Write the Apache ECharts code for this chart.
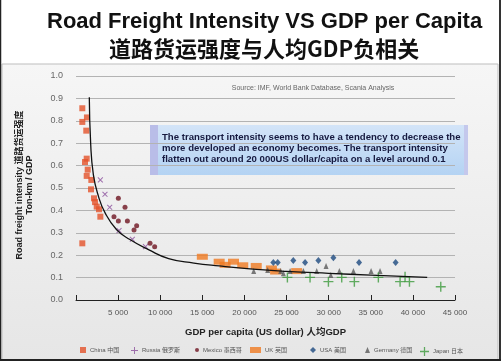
<!DOCTYPE html>
<html><head><meta charset="utf-8">
<script src="https://cdn.jsdelivr.net/npm/echarts@6/dist/echarts.min.js"></script>
<style>html,body{margin:0;padding:0;background:#fff}#c{width:503px;height:362px}</style>
</head><body><div id="c"></div>
<script>
const xTicks = [0,5000,10000,15000,20000,25000,30000,35000,40000,45000];
const yTicks = [0,0.1,0.2,0.3,0.4,0.5,0.6,0.7,0.8,0.9,1.0];
const china = [[750,0.856],[750,0.795],[1300,0.815],[1220,0.756],[1070,0.616],[1270,0.631],[1390,0.582],[1270,0.554],[1820,0.536],[1780,0.494],[2140,0.454],[2260,0.437],[2460,0.417],[2730,0.405],[2890,0.372],[750,0.253]];
const russia = [[2890,0.536],[3440,0.472],[4000,0.414],[5110,0.31],[6690,0.271],[8250,0.238]];
const mexico = [[5030,0.454],[5820,0.414],[4510,0.372],[5030,0.353],[6100,0.353],[7200,0.332],[6890,0.313],[8790,0.253],[9340,0.238]];
const uk = [[15000,0.193],[17000,0.171],[17700,0.157],[18700,0.171],[19800,0.155],[21400,0.152],[23200,0.141],[23700,0.127],[26200,0.129]];
const usa = [[23430,0.167],[23950,0.167],[25800,0.176],[27200,0.167],[28780,0.176],[30560,0.189],[33610,0.167],[37950,0.167]];
const germany = [[21100,0.129],[22760,0.134],[24300,0.129],[24620,0.119],[25420,0.129],[27000,0.129],[28580,0.129],[29690,0.152],[30250,0.112],[31270,0.129],[32940,0.129],[35040,0.129],[36100,0.129]];
const japan = [[25100,0.101],[27790,0.101],[29970,0.082],[31550,0.101],[33050,0.082],[35900,0.101],[38480,0.082],[39070,0.104],[39590,0.082],[43310,0.059]];
const trend = [[1580,0.905],[1740,0.70],[2060,0.56],[2650,0.465],[3440,0.39],[4800,0.315],[6400,0.27],[8600,0.225],[11000,0.185],[14000,0.165],[17000,0.152],[21000,0.138],[25000,0.128],[30000,0.119],[35000,0.111],[41700,0.101]];
const names = ['China 中国','Russia 俄罗斯','Mexico 墨西哥','UK 英国','USA 美国','Germany 德国','Japan 日本'];
const colors = ['#e4522b','#8b4f9c','#6e1420','#f07a22','#1d4a80','#5a5a5a','#3c9a3c'];

const PLUS = 'path://M4.3,0h1.4v4.3h4.3v1.4h-4.3v4.3h-1.4v-4.3h-4.3v-1.4h4.3z';
const symbols = ['rect',PLUS,'circle','rect','diamond','triangle',PLUS];
const sizes = [[6,6],[7,7],[5,5],[11,6],[6,7],[5,6],[10,10]];
const rots = [0,45,0,0,0,0,0];
const datas = [china,russia,mexico,uk,usa,germany,japan];
const legendLeft = [75,126,190,245,305,360,415];
const legendIcon = [[6,6],[7,7],[4,4],[11,6],[6,6],[5,6],[9,9]];

const chart = echarts.init(document.getElementById('c'));
const fontF = 'Arial, "Liberation Sans", "Noto Sans CJK SC", sans-serif';
const series = datas.map((d,i)=>({
  name:names[i], type:'scatter', data:d, symbol:symbols[i], symbolSize:sizes[i], symbolRotate:rots[i],
  itemStyle:{color:colors[i]}, z:3
}));
series.push({type:'line', data:trend, smooth:true, showSymbol:false, symbol:'none',
  lineStyle:{color:'#111', width:1.3}, z:4, silent:true});

chart.setOption({
  animation:false,
  textStyle:{fontFamily:fontF},
  title:[
    {text:'Road Freight Intensity VS GDP per Capita', left:42, top:6,
     textStyle:{fontSize:22, fontWeight:'bold', color:'#111', fontFamily:fontF}},
    {text:'道路货运强度与人均GDP负相关', left:104, top:33,
     textStyle:{fontSize:22, fontWeight:'bold', color:'#111', fontFamily:'"Noto Sans CJK SC", sans-serif'}}
  ],
  graphic:[
    {type:'rect', z:-10, shape:{x:2,y:64,width:496,height:296},
     style:{fill:new echarts.graphic.LinearGradient(0,0,0,1,[{offset:0,color:'#f6f6f6'},{offset:1,color:'#e6e6e6'}]), stroke:'#bdbdbd', lineWidth:1}},
    {type:'line', z:10, shape:{x1:0.5,y1:0,x2:0.5,y2:361}, style:{stroke:'#222',lineWidth:1.5}},
    {type:'line', z:10, shape:{x1:500,y1:0,x2:500,y2:361}, style:{stroke:'#333',lineWidth:2}},
    {type:'line', z:10, shape:{x1:0,y1:360,x2:501,y2:360}, style:{stroke:'#222',lineWidth:2}},
    {type:'text', z:10, x:25, y:185, rotation:Math.PI/2,
     style:{text:'Road freight intensity 道路货运强度\nTon-km / GDP', align:'center', verticalAlign:'middle',
       font:'bold 9px Arial, "Noto Sans CJK SC", sans-serif', fill:'#222', lineHeight:10}},
    {type:'text', z:10, x:313, y:88,
     style:{text:'Source: IMF, World Bank Database, Scania Analysis', align:'center', verticalAlign:'middle',
       font:'7px Arial, sans-serif', fill:'#666'}},
    {type:'group', z:20, x:150, y:125, children:[
      {type:'rect', shape:{x:0,y:0,width:318,height:50},
       style:{fill:new echarts.graphic.LinearGradient(0,0,0,1,[{offset:0,color:'#d3e4f8'},{offset:1,color:'#b4d3f3'}])}},
      {type:'rect', shape:{x:0,y:0,width:8,height:50}, style:{fill:'#b9bde8'}},
      {type:'rect', shape:{x:314,y:0,width:4,height:50}, style:{fill:'#c4c8ec'}},
      {type:'text', x:12, y:7,
       style:{text:'The transport intensity seems to have a tendency to decrease the\nmore developed an economy becomes. The transport intensity\nflatten out around 20 000US dollar/capita on a level around 0.1',
         font:'bold 9.6px Arial, sans-serif', fill:'#16193f', lineHeight:11}}
    ]}
  ],
  legend: names.map((n,i)=>({
    data:[{name:n, icon: symbols[i]===PLUS ? PLUS : symbols[i], itemStyle:{color:colors[i]}}],
    left:legendLeft[i], top:342, itemWidth:legendIcon[i][0], itemHeight:legendIcon[i][1], itemGap:4,
    textStyle:{fontSize:6, color:'#555', padding:[0,0,0,-1]}, selectedMode:false,
    icon: symbols[i]===PLUS ? PLUS : symbols[i]
  })),
  grid:{left:76, right:48, top:76, bottom:62},
  xAxis:{type:'value', min:0, max:45000, interval:5000,
    name:'GDP per capita (US dollar) 人均GDP', nameLocation:'middle', nameGap:28,
    nameTextStyle:{fontSize:9.5, fontWeight:'bold', color:'#222'},
    axisLine:{show:true, onZero:false, lineStyle:{color:'#222', width:1}},
    axisTick:{show:true, inside:true, length:5, lineStyle:{color:'#222'}},
    splitLine:{show:false},
    axisLabel:{fontSize:8, color:'#555', margin:9,
      formatter:v=> v===0 ? '' : String(v).replace(/\B(?=(\d{3})+(?!\d))/g,' ')}
  },
  yAxis:{type:'value', min:0, max:1, interval:0.1,
    axisLine:{show:false}, axisTick:{show:false},
    splitLine:{show:true, lineStyle:{color:'#b3b3b3', width:1}},
    axisLabel:{fontSize:9, color:'#666', margin:13, formatter:v=>v.toFixed(1)}
  },
  series:series
});
</script></body></html>
